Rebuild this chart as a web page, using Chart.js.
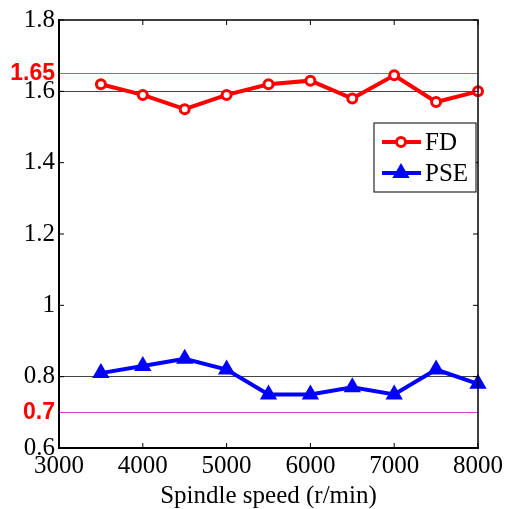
<!DOCTYPE html>
<html>
<head>
<meta charset="utf-8">
<script src="https://cdn.jsdelivr.net/npm/chart.js@4.4.0/dist/chart.umd.min.js"></script>
<style>
  html, body { margin: 0; padding: 0; background: #fff; }
  #wrap { width: 510px; height: 509px; }
</style>
</head>
<body>
<div id="wrap"><canvas id="chart" width="510" height="509"></canvas></div>
<script>
// Data
const speeds = [3500, 4000, 4500, 5000, 5500, 6000, 6500, 7000, 7500, 8000];
const fdValues = [1.62, 1.59, 1.55, 1.59, 1.62, 1.63, 1.58, 1.645, 1.57, 1.60];
const pseValues = [0.81, 0.83, 0.85, 0.82, 0.75, 0.75, 0.77, 0.75, 0.82, 0.78];

const xTicks = [3000, 4000, 5000, 6000, 7000, 8000];
const yTicks = [0.6, 0.7, 0.8, 1, 1.2, 1.4, 1.6, 1.65, 1.8];
const yTickLabels = ['0.6', '0.7', '0.8', '1', '1.2', '1.4', '1.6', '1.65', '1.8'];
const refLevels = [1.65, 0.7];   // magenta lines, red labels
const gridLevels = [1.6, 0.8];   // thin dark lines

const SERIF = '"Liberation Serif", "Times New Roman", serif';
const SANS = '"Liberation Sans", Arial, sans-serif';

const isRef = v => refLevels.some(r => Math.abs(r - v) < 1e-9);
const isGrid = v => gridLevels.some(r => Math.abs(r - v) < 1e-9);

// Box frame, inward ticks and the in-plot legend
const framePlugin = {
    id: 'frame',
    afterDraw(chart) {
        const { ctx, chartArea: a, scales } = chart;
        ctx.save();
        ctx.strokeStyle = '#000';
        ctx.lineWidth = 1.5;
        ctx.strokeRect(a.left, a.top, a.right - a.left, a.bottom - a.top);

        // inward tick marks
        ctx.lineWidth = 1;
        ctx.beginPath();
        xTicks.forEach(v => {
            const px = scales.x.getPixelForValue(v);
            ctx.moveTo(px, a.bottom); ctx.lineTo(px, a.bottom - 5);
            ctx.moveTo(px, a.top); ctx.lineTo(px, a.top + 5);
        });
        yTicks.filter(v => !isRef(v)).forEach(v => {
            const py = scales.y.getPixelForValue(v);
            ctx.moveTo(a.left, py); ctx.lineTo(a.left + 5, py);
            ctx.moveTo(a.right, py); ctx.lineTo(a.right - 5, py);
        });
        ctx.stroke();

        // legend
        const bx = a.right - 104, by = a.top + 103, bw = 102, bh = 69;
        ctx.fillStyle = '#fff';
        ctx.fillRect(bx, by, bw, bh);
        ctx.lineWidth = 1;
        ctx.strokeStyle = '#000';
        ctx.strokeRect(bx, by, bw, bh);
        chart.data.datasets.slice(0, 2).forEach((ds, i) => {
            const cy = by + 19 + i * 31;
            ctx.strokeStyle = ds.borderColor;
            ctx.lineWidth = ds.borderWidth;
            ctx.beginPath();
            ctx.moveTo(bx + 8, cy); ctx.lineTo(bx + 47, cy);
            ctx.stroke();
            ctx.fillStyle = ds.pointBackgroundColor;
            ctx.strokeStyle = ds.borderColor;
            ctx.lineWidth = ds.pointBorderWidth;
            Chart.helpers.drawPoint(ctx, {
                pointStyle: ds.pointStyle, radius: ds.pointRadius, rotation: 0,
                borderWidth: ds.pointBorderWidth
            }, bx + 27, cy);
            ctx.fillStyle = '#000';
            ctx.font = '25px ' + SERIF;
            ctx.textBaseline = 'middle';
            ctx.textAlign = 'left';
            ctx.fillText(ds.label, bx + 51, cy + 1);
        });
        ctx.restore();
    }
};

new Chart(document.getElementById('chart'), {
    type: 'line',
    data: {
        datasets: [
            {
                label: 'FD',
                data: speeds.map((s, i) => ({ x: s, y: fdValues[i] })),
                borderColor: '#ff0000',
                borderWidth: 4,
                pointStyle: 'circle',
                pointRadius: 4.5,
                pointBorderWidth: 3,
                pointBackgroundColor: '#ffffff',
                pointBorderColor: '#ff0000',
                tension: 0,
                clip: false
            },
            {
                label: 'PSE',
                data: speeds.map((s, i) => ({ x: s, y: pseValues[i] })),
                borderColor: '#0000ff',
                borderWidth: 4,
                pointStyle: 'triangle',
                pointRadius: 8,
                pointBorderWidth: 2,
                pointBackgroundColor: '#0000ff',
                pointBorderColor: '#0000ff',
                tension: 0,
                clip: false
            }
        ]
    },
    options: {
        responsive: false,
        animation: false,
        events: [],
        layout: { padding: { top: 20, right: 32, left: 0, bottom: 0 } },
        plugins: {
            legend: { display: false },
            tooltip: { enabled: false }
        },
        scales: {
            x: {
                type: 'linear',
                min: 3000,
                max: 8000,
                afterBuildTicks: scale => { scale.ticks = xTicks.map(v => ({ value: v })); },
                afterFit: scale => { scale.height = 61; },
                grid: { display: false, drawTicks: false },
                border: { display: true, color: '#000', width: 2 },
                ticks: {
                    color: '#000',
                    font: { family: SERIF, size: 25 },
                    padding: 3,
                    maxRotation: 0,
                    autoSkip: false,
                    callback: v => String(v)
                },
                title: {
                    display: true,
                    text: 'Spindle speed (r/min)',
                    color: '#000',
                    font: { family: SERIF, size: 25 },
                    padding: { top: 0, bottom: -2 }
                }
            },
            y: {
                min: 0.6,
                max: 1.8,
                afterBuildTicks: scale => { scale.ticks = yTicks.map(v => ({ value: v })); },
                afterFit: scale => { scale.width = 59; },
                grid: {
                    drawTicks: false,
                    lineWidth: 1,
                    color: c => {
                        const v = c.tick ? c.tick.value : null;
                        if (v !== null && isRef(v)) return '#d63fd6';
                        if (v !== null && isGrid(v)) return '#444';
                        return 'rgba(0,0,0,0)';
                    }
                },
                border: { display: true, color: '#000', width: 2 },
                ticks: {
                    autoSkip: false,
                    padding: 4,
                    color: c => (c.tick && isRef(c.tick.value)) ? '#ff0000' : '#000',
                    font: c => (c.tick && isRef(c.tick.value))
                        ? { family: SANS, size: 23, weight: 'bold' }
                        : { family: SERIF, size: 25 },
                    callback: (v, i) => yTickLabels[i]
                }
            }
        }
    },
    plugins: [framePlugin]
});
</script>
</body>
</html>
